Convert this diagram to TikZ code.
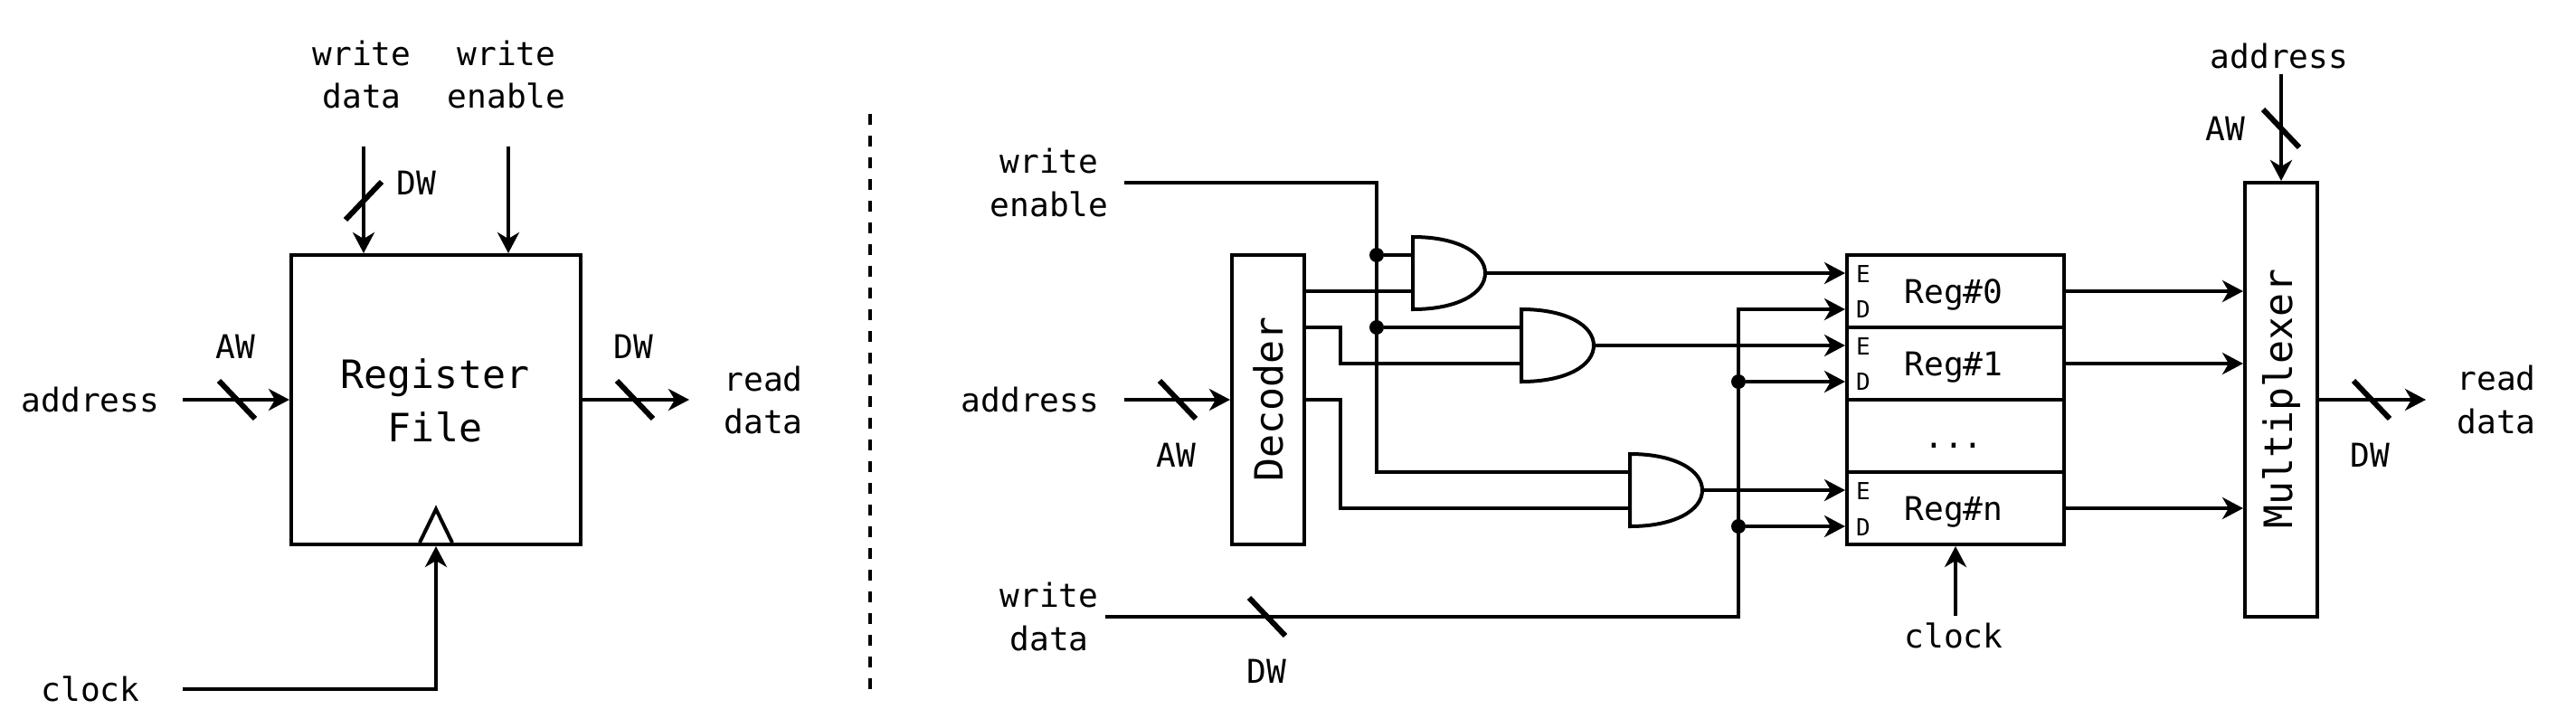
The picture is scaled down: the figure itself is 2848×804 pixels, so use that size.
\documentclass[tikz,border=0pt]{standalone}
\usepackage{fontspec}
\setmonofont{DejaVu Sans Mono}
\usetikzlibrary{arrows.meta,calc}
\newcommand{\wiretick}[2]{\draw[ticka] (#1-20,#2-21) -- (#1+20,#2+21);}
\newcommand{\wiretickb}[2]{\draw[ticka] (#1-20,#2+21) -- (#1+20,#2-21);}
\tikzset{
  wire/.style={line width=4pt,line join=miter},
  arr/.style={wire,-{Stealth[length=23pt,width=24pt,inset=7pt]}},
  ticka/.style={line width=6pt},
  blockbox/.style={draw,line width=4pt,inner sep=0pt,outer sep=2pt,fill=white},
  lbl/.style={inner sep=0pt,outer sep=0pt,anchor=base,align=center,font=\ttfamily\fontsize{36.2}{47.5}\selectfont},
  biglbl/.style={inner sep=0pt,outer sep=0pt,anchor=base,align=center,font=\ttfamily\fontsize{43.2}{59}\selectfont},
  tinylbl/.style={inner sep=0pt,outer sep=0pt,anchor=base,font=\ttfamily\fontsize{26}{30}\selectfont},
  gatebox/.style={minimum width=80pt,minimum height=80pt,inner sep=0pt,outer sep=0pt},
  gateline/.style={line width=4pt,line join=miter,fill=white},
  jdot/.style={circle,fill=black,minimum size=16pt,inner sep=0pt,outer sep=0pt},
}
\newcommand{\andshape}[1]{\draw[gateline] (#1.north west) .. controls ++(50,0) and ($(#1.east)+(0,-22)$) .. (#1.east) .. controls ($(#1.east)+(0,22)$) and ($(#1.south west)+(50,0)$) .. (#1.south west) -- cycle;}
\begin{document}
\begin{tikzpicture}[x=1pt,y=-1pt]
\useasboundingbox (0,0) rectangle (2848,804);
% ---- left: register file
\node[blockbox,minimum width=320pt,minimum height=320pt] (rf) at (482,442) {};
\node[biglbl] (rft) at (481,488) {Register\\File};
\coordinate (rfwd) at (402,162);
\coordinate (rfwdE) at (402,280);
\coordinate (rfwe) at (562,162);
\coordinate (rfweE) at (562,280);
\coordinate (rfad) at (202,442);
\coordinate (rfrd) at (762,442);
\coordinate (rfclk) at (202,762);
\coordinate (rfclkE) at (482,604);
\draw[arr] (rfwd) -- (rfwdE);
\draw[arr] (rfwe) -- (rfweE);
\draw[arr] (rfad) -- (rf.west);
\draw[arr] (rf.east) -- (rfrd);
\draw[arr] (rfclk) -| (rfclkE);
\draw[line width=4pt,line join=miter] (464,600) -- (482,563) -- (500,600);
\wiretickb{402}{222}
\wiretick{262}{442}
\wiretick{702}{442}
\node[lbl] (l1) at (400,119.5) {write\\data};
\node[lbl] (l2) at (560,119.5) {write\\enable};
\node[lbl] (l3) at (460,215) {DW};
\node[lbl] (l4) at (260,396) {AW};
\node[lbl] (l5) at (700,396) {DW};
\node[lbl] (l6) at (100,455) {address};
\node[lbl] (l7) at (844,479.5) {read\\data};
\node[lbl] (l8) at (100,775) {clock};
% ---- divider
\coordinate (divT) at (962,126);
\coordinate (divB) at (962,762);
\draw[line width=4pt,dash pattern=on 12pt off 12pt] (divT) -- (divB);
% ---- right: blocks
\node[blockbox,minimum width=80pt,minimum height=320pt] (dec) at (1402,442) {};
\node[biglbl,rotate=90,anchor=center] (dect) at (1402,441) {Decoder};
\node[blockbox,minimum width=80pt,minimum height=480pt] (mux) at (2522,442) {};
\node[biglbl,rotate=90,anchor=center] (muxt) at (2522,441) {Multiplexer};
\node[gatebox] (g0) at (1602,302) {};
\node[gatebox] (g1) at (1722,382) {};
\node[gatebox] (g2) at (1842,542) {};
% registers
\node[blockbox,minimum width=240pt,minimum height=80pt] (r0) at (2162,322) {};
\node[blockbox,minimum width=240pt,minimum height=80pt] (r1) at (2162,402) {};
\node[blockbox,minimum width=240pt,minimum height=80pt] (rx) at (2162,482) {};
\node[blockbox,minimum width=240pt,minimum height=80pt] (rn) at (2162,562) {};
% enable tree
\coordinate (weS) at (1243,202);
\coordinate (weC) at (1522,202);
\coordinate (weD) at (1522,522);
\node[jdot] (j0) at (1522,282) {};
\node[jdot] (j1) at (1522,362) {};
\coordinate (g0a) at (1562,282);
\coordinate (g0b) at (1562,322);
\coordinate (g1a) at (1682,362);
\coordinate (g1b) at (1682,402);
\coordinate (g2a) at (1802,522);
\coordinate (g2b) at (1802,562);
\draw[wire] (weS) -- (weC) -- (weD) -- (g2a);
\draw[wire] (j0) -- (g0a);
\draw[wire] (j1) -- (g1a);
% decoder outputs
\coordinate (d0) at (1442,322);
\coordinate (d1) at (1442,362);
\coordinate (d2) at (1442,442);
\coordinate (d1k) at (1482,362);
\coordinate (d1l) at (1482,402);
\coordinate (d2k) at (1482,442);
\coordinate (d2l) at (1482,562);
\draw[wire] (d0) -- (g0b);
\draw[wire] (d1) -- (d1k) -- (d1l) -- (g1b);
\draw[wire] (d2) -- (d2k) -- (d2l) -- (g2b);
% gate shapes
\andshape{g0}
\andshape{g1}
\andshape{g2}
% enable/data into registers
\coordinate (re0) at (2040,302);
\coordinate (rd0) at (2040,342);
\coordinate (re1) at (2040,382);
\coordinate (rd1) at (2040,422);
\coordinate (ren) at (2040,542);
\coordinate (rdn) at (2040,582);
\draw[arr] (g0.east) -- (re0);
\draw[arr] (g1.east) -- (re1);
\draw[arr] (g2.east) -- (ren);
\coordinate (wdS) at (1222,682);
\coordinate (wdC) at (1922,682);
\coordinate (wdT) at (1922,342);
\draw[arr] (wdS) -- (wdC) -- (wdT) -- (rd0);
\node[jdot] (j2) at (1922,422) {};
\node[jdot] (j3) at (1922,582) {};
\draw[arr] (j2) -- (rd1);
\draw[arr] (j3) -- (rdn);
% address to decoder
\coordinate (adS) at (1243,442);
\draw[arr] (adS) -- (dec.west);
\wiretick{1302}{442}
\wiretick{1401}{682}
% registers to mux
\coordinate (m0) at (2480,322);
\coordinate (m1) at (2480,402);
\coordinate (mn) at (2480,562);
\draw[arr] (r0.east) -- (m0);
\draw[arr] (r1.east) -- (m1);
\draw[arr] (rn.east) -- (mn);
% clock
\coordinate (ckS) at (2162,681);
\draw[arr] (ckS) -- (rn.south);
% mux address and output
\coordinate (maS) at (2522,82);
\draw[arr] (maS) -- (mux.north);
\wiretick{2522}{142}
\coordinate (moE) at (2682,442);
\draw[arr] (mux.east) -- (moE);
\wiretick{2622}{442}
% right labels
\node[lbl] (t1) at (1160,239) {write\\enable};
\node[lbl] (t2) at (1139,455) {address};
\node[lbl] (t3) at (1300,516) {AW};
\node[lbl] (t4) at (1160,719) {write\\data};
\node[lbl] (t5) at (1400,755.5) {DW};
\node[lbl] (t6) at (2160,335.4) {Reg\#0};
\node[lbl] (t7) at (2160,415) {Reg\#1};
\node[lbl] (t8) at (2160,495) {...};
\node[lbl] (t9) at (2160,575) {Reg\#n};
\node[lbl] (t10) at (2160,716) {clock};
\node[lbl] (t11) at (2520,75) {address};
\node[lbl] (t12) at (2460,155) {AW};
\node[lbl] (t13) at (2620,516) {DW};
\node[lbl] (t14) at (2760,479) {read\\data};
\node[tinylbl] (e0) at (2060,312.6) {E};
\node[tinylbl] (f0) at (2060,351.4) {D};
\node[tinylbl] (e1) at (2060,392.6) {E};
\node[tinylbl] (f1) at (2060,431) {D};
\node[tinylbl] (e2) at (2060,552.6) {E};
\node[tinylbl] (f2) at (2060,592) {D};
\end{tikzpicture}
\end{document}
